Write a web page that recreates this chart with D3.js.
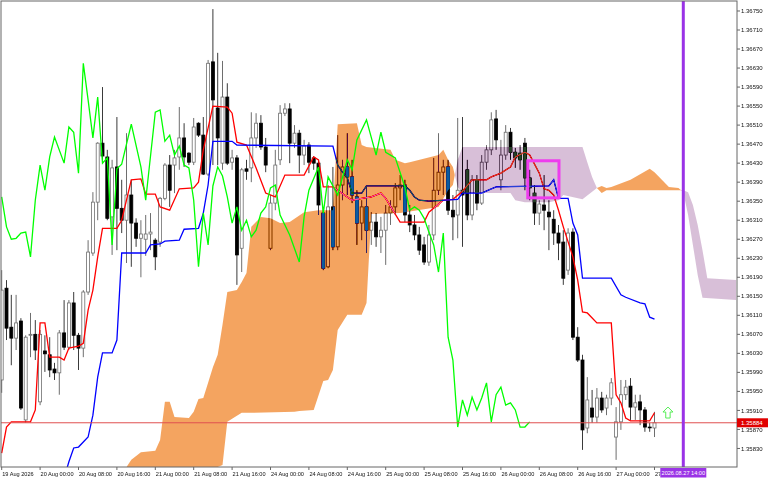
<!DOCTYPE html>
<html><head><meta charset="utf-8">
<script src="https://cdn.jsdelivr.net/npm/d3@7"></script>
<style>
html,body{margin:0;padding:0;background:#fff;}
svg{display:block;isolation:isolate;}
text{font-family:"Liberation Sans",Arial,sans-serif;}
</style></head><body>
<svg id="c" width="768" height="480"></svg>
<script>
// ---- data (H1 bars, index 0 = 19 Aug 2026 16:00) ----
const open = [1.35974,1.36167,1.36085,1.36062,1.36098,1.35890,1.36068,1.36070,1.35928,1.36035,1.36027,1.35997,1.35989,1.36073,1.36043,1.36136,1.36068,1.36041,1.36159,1.36241,1.36348,1.36472,1.36443,1.36317,1.36422,1.36335,1.36310,1.36363,1.36304,1.36272,1.36270,1.36281,1.36268,1.36264,1.36356,1.36426,1.36426,1.36443,1.36483,1.36451,1.36432,1.36514,1.36489,1.36407,1.36643,1.36546,1.36430,1.36569,1.36432,1.36441,1.36251,1.36418,1.36420,1.36483,1.36514,1.36464,1.36251,1.36346,1.36437,1.36535,1.36544,1.36472,1.36493,1.36447,1.36468,1.36441,1.36430,1.36325,1.36212,1.36338,1.36254,1.36384,1.36422,1.36401,1.36359,1.36304,1.36338,1.36289,1.36306,1.36275,1.36289,1.36325,1.36338,1.36378,1.36384,1.36321,1.36300,1.36279,1.36258,1.36222,1.36279,1.36373,1.36411,1.36422,1.36331,1.36321,1.36373,1.36416,1.36321,1.36395,1.36346,1.36432,1.36458,1.36523,1.36395,1.36447,1.36495,1.36453,1.36451,1.36472,1.36399,1.36367,1.36325,1.36342,1.36327,1.36312,1.36283,1.36264,1.36205,1.36285,1.36064,1.36016,1.35873,1.35915,1.35896,1.35936,1.35915,1.35936,1.35854,1.35886,1.35943,1.35961,1.35917,1.35928,1.35911,1.35875,1.35873];
const high = [1.36205,1.36184,1.36153,1.36153,1.36104,1.36068,1.36115,1.36100,1.36079,1.36068,1.36064,1.36010,1.36079,1.36142,1.36142,1.36159,1.36073,1.36163,1.36268,1.36369,1.36474,1.36590,1.36458,1.36437,1.36527,1.36395,1.36493,1.36395,1.36314,1.36310,1.36321,1.36325,1.36272,1.36359,1.36430,1.36447,1.36458,1.36548,1.36514,1.36453,1.36525,1.36516,1.36527,1.36647,1.36754,1.36662,1.36645,1.36598,1.36458,1.36447,1.36420,1.36437,1.36537,1.36535,1.36531,1.36483,1.36363,1.36458,1.36552,1.36556,1.36556,1.36510,1.36500,1.36479,1.36474,1.36445,1.36437,1.36338,1.36384,1.36422,1.36489,1.36437,1.36493,1.36437,1.36373,1.36352,1.36380,1.36327,1.36325,1.36317,1.36342,1.36352,1.36388,1.36405,1.36395,1.36342,1.36321,1.36296,1.36275,1.36300,1.36441,1.36493,1.36437,1.36437,1.36363,1.36525,1.36527,1.36437,1.36405,1.36405,1.36447,1.36468,1.36537,1.36542,1.36479,1.36510,1.36504,1.36462,1.36468,1.36483,1.36416,1.36384,1.36352,1.36405,1.36352,1.36331,1.36300,1.36289,1.36293,1.36293,1.36085,1.36027,1.35980,1.35953,1.35957,1.35949,1.35943,1.35978,1.35917,1.35974,1.35974,1.35978,1.35943,1.35943,1.35917,1.35884,1.35907];
const low = [1.35947,1.36058,1.36005,1.36037,1.35911,1.35884,1.36022,1.36016,1.35921,1.35991,1.35980,1.35974,1.35943,1.36037,1.36037,1.36037,1.35995,1.36022,1.36153,1.36235,1.36310,1.36437,1.36310,1.36237,1.36247,1.36283,1.36220,1.36212,1.36254,1.36190,1.36235,1.36247,1.36205,1.36254,1.36352,1.36338,1.36367,1.36416,1.36422,1.36426,1.36426,1.36485,1.36405,1.36403,1.36426,1.36426,1.36416,1.36426,1.36416,1.36174,1.36201,1.36395,1.36390,1.36462,1.36458,1.36411,1.36247,1.36331,1.36426,1.36529,1.36430,1.36462,1.36409,1.36426,1.36409,1.36416,1.36321,1.36205,1.36209,1.36247,1.36247,1.36352,1.36363,1.36346,1.36258,1.36268,1.36241,1.36258,1.36254,1.36241,1.36216,1.36300,1.36321,1.36352,1.36306,1.36285,1.36268,1.36237,1.36216,1.36214,1.36268,1.36363,1.36363,1.36321,1.36268,1.36272,1.36254,1.36310,1.36310,1.36331,1.36342,1.36416,1.36447,1.36458,1.36373,1.36437,1.36437,1.36420,1.36416,1.36373,1.36352,1.36300,1.36300,1.36289,1.36247,1.36258,1.36226,1.36174,1.36195,1.36058,1.36012,1.35827,1.35862,1.35884,1.35884,1.35905,1.35900,1.35921,1.35806,1.35869,1.35932,1.35890,1.35890,1.35879,1.35865,1.35865,1.35854];
const close = [1.36163,1.36083,1.36062,1.36094,1.35915,1.36064,1.36070,1.36037,1.36070,1.36029,1.35995,1.35989,1.36073,1.36043,1.36136,1.36068,1.36041,1.36159,1.36243,1.36348,1.36472,1.36445,1.36314,1.36420,1.36335,1.36310,1.36363,1.36304,1.36272,1.36281,1.36281,1.36285,1.36233,1.36356,1.36426,1.36373,1.36441,1.36483,1.36443,1.36432,1.36506,1.36489,1.36407,1.36640,1.36563,1.36483,1.36569,1.36430,1.36441,1.36237,1.36416,1.36413,1.36483,1.36514,1.36464,1.36426,1.36346,1.36426,1.36535,1.36544,1.36472,1.36493,1.36447,1.36466,1.36432,1.36430,1.36342,1.36209,1.36338,1.36254,1.36384,1.36422,1.36401,1.36363,1.36304,1.36338,1.36289,1.36306,1.36275,1.36289,1.36325,1.36338,1.36378,1.36384,1.36321,1.36300,1.36279,1.36247,1.36222,1.36279,1.36373,1.36411,1.36422,1.36331,1.36317,1.36373,1.36363,1.36321,1.36395,1.36346,1.36432,1.36458,1.36521,1.36479,1.36447,1.36495,1.36453,1.36441,1.36437,1.36399,1.36378,1.36325,1.36344,1.36331,1.36317,1.36283,1.36262,1.36188,1.36283,1.36064,1.36016,1.35869,1.35932,1.35896,1.35936,1.35911,1.35936,1.35968,1.35886,1.35943,1.35959,1.35917,1.35926,1.35911,1.35875,1.35874,1.35884];

// Ichimoku lines as [bar index, price] vertices
const tenkan = [[0,1.35820],[1,1.35875],[2,1.35886],[6,1.35886],[7,1.35911],[8,1.36094],[9,1.36094],[10,1.36022],[12,1.36022],[13,1.36016],[14,1.36041],[16,1.36045],[17,1.36051],[18,1.36121],[19,1.36163],[20,1.36233],[21,1.36293],[24,1.36293],[25,1.36310],[27,1.36395],[29,1.36397],[30,1.36365],[32,1.36365],[33,1.36338],[35,1.36331],[37,1.36376],[40,1.36378],[41,1.36390],[42,1.36458],[44,1.36550],[47,1.36548],[48,1.36535],[49,1.36474],[51,1.36468],[53,1.36420],[55,1.36367],[57,1.36359],[59,1.36405],[63,1.36405],[65,1.36443],[66,1.36437],[67,1.36380],[69,1.36380],[72,1.36359],[73,1.36352],[75,1.36356],[77,1.36359],[79,1.36367],[80,1.36356],[83,1.36306],[88,1.36306],[89,1.36327],[92,1.36352],[94,1.36354],[96,1.36371],[98,1.36395],[101,1.36395],[102,1.36401],[104,1.36409],[106,1.36422],[107,1.36443],[109,1.36453],[110,1.36447],[112,1.36409],[113,1.36376],[114,1.36373],[115,1.36363],[116,1.36331],[117,1.36296],[119,1.36233],[120,1.36184],[121,1.36117],[122,1.36115],[124,1.36094],[127,1.36094],[128,1.35943],[129,1.35926],[130,1.35894],[131,1.35888],[135,1.35888],[136,1.35905]];
const kijun = [[13,1.35768],[14,1.35802],[15,1.35831],[16,1.35833],[18,1.35854],[19,1.35900],[20,1.35980],[21,1.36031],[23,1.36031],[24,1.36058],[25,1.36241],[30,1.36241],[31,1.36258],[33,1.36260],[34,1.36266],[37,1.36268],[38,1.36291],[41,1.36293],[42,1.36325],[43,1.36384],[44,1.36476],[48,1.36476],[49,1.36468],[69,1.36466],[70,1.36426],[71,1.36411],[72,1.36399],[73,1.36367],[75,1.36367],[76,1.36382],[84,1.36382],[85,1.36373],[86,1.36359],[87,1.36352],[89,1.36350],[95,1.36354],[96,1.36367],[100,1.36367],[102,1.36376],[103,1.36380],[114,1.36382],[115,1.36395],[116,1.36356],[118,1.36356],[119,1.36304],[120,1.36279],[121,1.36188],[127,1.36188],[129,1.36153],[130,1.36148],[133,1.36136],[134,1.36134],[135,1.36106],[136,1.36102]];
const chikou = [[0,1.36359],[1,1.36296],[2,1.36270],[3,1.36272],[4,1.36283],[5,1.36285],[6,1.36233],[7,1.36352],[8,1.36426],[9,1.36373],[10,1.36443],[11,1.36485],[13,1.36430],[14,1.36506],[15,1.36495],[16,1.36409],[17,1.36640],[18,1.36563],[19,1.36483],[20,1.36569],[21,1.36430],[22,1.36441],[23,1.36258],[24,1.36418],[25,1.36428],[27,1.36512],[29,1.36422],[30,1.36352],[32,1.36537],[33,1.36542],[34,1.36476],[35,1.36489],[36,1.36447],[37,1.36466],[38,1.36426],[39,1.36420],[40,1.36352],[41,1.36212],[42,1.36325],[43,1.36258],[44,1.36382],[45,1.36422],[46,1.36403],[47,1.36359],[48,1.36304],[49,1.36338],[50,1.36289],[51,1.36310],[52,1.36275],[53,1.36289],[54,1.36325],[55,1.36338],[56,1.36378],[57,1.36384],[58,1.36321],[59,1.36300],[60,1.36279],[62,1.36222],[63,1.36317],[64,1.36373],[66,1.36422],[67,1.36325],[68,1.36401],[70,1.36363],[72,1.36437],[73,1.36416],[74,1.36479],[76,1.36521],[78,1.36447],[79,1.36495],[80,1.36453],[82,1.36441],[84,1.36380],[85,1.36331],[86,1.36338],[87,1.36331],[88,1.36314],[89,1.36285],[90,1.36258],[91,1.36201],[92,1.36283],[93,1.36064],[94,1.36016],[95,1.35875],[96,1.35932],[97,1.35900],[98,1.35938],[99,1.35911],[100,1.35936],[101,1.35968],[102,1.35886],[103,1.35943],[104,1.35959],[105,1.35921],[106,1.35926],[107,1.35911],[108,1.35875],[109,1.35875],[110,1.35886]];
const spanA = [[26,1.35785],[27,1.35806],[29,1.35822],[32,1.35825],[33,1.35848],[34,1.35928],[35,1.35928],[36,1.35896],[39,1.35894],[40,1.35907],[41,1.35934],[42,1.35936],[43,1.35968],[44,1.36001],[45,1.36027],[46,1.36090],[47,1.36159],[49,1.36163],[50,1.36180],[51,1.36199],[52,1.36296],[54,1.36317],[56,1.36314],[58,1.36304],[60,1.36306],[63,1.36327],[66,1.36331],[69,1.36331],[70,1.36512],[74,1.36514],[75,1.36468],[76,1.36464],[81,1.36458],[82,1.36437],[84,1.36430],[85,1.36432],[91,1.36447],[92,1.36458],[93,1.36437],[94,1.36422],[95,1.36380],[96,1.36367],[106,1.36367],[107,1.36352],[109,1.36348],[114,1.36348],[116,1.36352],[117,1.36363],[121,1.36354],[124,1.36378],[125,1.36382],[126,1.36378],[127,1.36380],[131,1.36395],[135,1.36418],[136,1.36411],[139,1.36380],[141,1.36378],[142,1.36369],[143,1.36321],[144,1.36258],[145,1.36195],[146,1.36147],[153,1.36142]];
const spanB = [[26,1.35722],[45,1.35764],[46,1.35795],[47,1.35886],[50,1.35905],[52,1.35905],[61,1.35907],[62,1.35909],[65,1.35911],[67,1.35972],[68,1.35974],[69,1.35995],[70,1.36079],[72,1.36111],[75,1.36111],[76,1.36136],[77,1.36323],[83,1.36325],[91,1.36338],[93,1.36373],[94,1.36384],[95,1.36437],[96,1.36464],[121,1.36464],[122,1.36432],[123,1.36401],[124,1.36378],[125,1.36367],[126,1.36373],[141,1.36373],[142,1.36373],[143,1.36369],[144,1.36342],[145,1.36300],[146,1.36247],[147,1.36188],[153,1.36184]];

const priceTicks = ["1.36750","1.36710","1.36670","1.36630","1.36590","1.36550","1.36510","1.36470","1.36430","1.36390","1.36350","1.36310","1.36270","1.36230","1.36190","1.36150","1.36110","1.36070","1.36030","1.35990","1.35950","1.35910","1.35870","1.35830"];
const timeLabels = [[0,"19 Aug 2026"],[8,"20 Aug 00:00"],[16,"20 Aug 08:00"],[24,"20 Aug 16:00"],[32,"21 Aug 00:00"],[40,"21 Aug 08:00"],[48,"21 Aug 16:00"],[56,"24 Aug 00:00"],[64,"24 Aug 08:00"],[72,"24 Aug 16:00"],[80,"25 Aug 00:00"],[88,"25 Aug 08:00"],[96,"25 Aug 16:00"],[104,"26 Aug 00:00"],[112,"26 Aug 08:00"],[120,"26 Aug 16:00"],[128,"27 Aug 00:00"],[136,"27 Aug 08:00"]];
const lastPrice = 1.35884;
const vline = {bar:142, label:"2026.08.27 14:00"};
const boxObj = {from:109.6, to:116.1, top:1.36435, bottom:1.36357};
const arrowObj = {bar:138.8, price:1.35894};

// ---- layout ----
const W=768,H=480,L=1,R=737,T=1,B=467;
const x = d3.scaleLinear().domain([0,153]).range([1.7,1.7+153*4.8]);
const y = d3.scaleLinear().domain([1.35791,1.36771]).range([B,T]);
const cy = v => Math.max(T, Math.min(B, y(v)));

const svg = d3.select('#c');
svg.append('rect').attr('width',W).attr('height',H).attr('fill','#fff');
const defs = svg.append('defs');
defs.append('clipPath').attr('id','plot').append('rect')
  .attr('x',L).attr('y',T).attr('width',R-L).attr('height',B-T);
defs.append('clipPath').attr('id','lbl').append('rect')
  .attr('x',0).attr('y',B).attr('width',x(vline.bar)-23).attr('height',H-B);

// candles
const idx = d3.range(close.length);
const gC = svg.append('g').attr('clip-path','url(#plot)');
gC.selectAll('line.wick').data(idx).join('line').attr('class','wick')
  .attr('x1',i=>x(i)).attr('x2',i=>x(i))
  .attr('y1',i=>y(high[i])).attr('y2',i=>y(low[i]))
  .attr('stroke',i=>close[i]>=open[i]?'#6e6e6e':'#3a3a3a').attr('stroke-width',1);
gC.selectAll('rect.body').data(idx).join('rect').attr('class','body')
  .attr('x',i=>x(i)-1.5).attr('width',3)
  .attr('y',i=>y(Math.max(open[i],close[i])))
  .attr('height',i=>Math.max(0.8,Math.abs(y(open[i])-y(close[i]))))
  .attr('fill',i=>close[i]>=open[i]?'#fff':'#000')
  .attr('stroke',i=>close[i]>=open[i]?'#6e6e6e':'#000').attr('stroke-width',0.8);

const line = d3.line().x(d=>x(d[0])).y(d=>y(d[1]));
const gL = svg.append('g').attr('clip-path','url(#plot)').attr('fill','none');
gL.append('path').attr('d',line(tenkan)).attr('stroke','#ff0000').attr('stroke-width',1.3);
gL.append('path').attr('d',line(kijun)).attr('stroke','#0000ff').attr('stroke-width',1.3);

// cloud (inverting blend, like the terminal's XOR histogram)
const areaDown = d3.area().x(d=>x(d[0])).y0(B).y1(d=>cy(d[1]));
const areaUp = d3.area().x(d=>x(d[0])).y0(T).y1(d=>cy(d[1]));
defs.append('clipPath').attr('id','aboveB').append('path').attr('d',areaUp(spanB));
defs.append('clipPath').attr('id','aboveA').append('path').attr('d',areaUp(spanA));
svg.append('path').attr('d',areaDown(spanA)).attr('fill','rgb(11,91,159)')
  .attr('clip-path','url(#aboveB)').style('mix-blend-mode','difference');
svg.append('path').attr('d',areaDown(spanB)).attr('fill','rgb(39,64,39)')
  .attr('clip-path','url(#aboveA)').style('mix-blend-mode','difference');

const gL2 = svg.append('g').attr('clip-path','url(#plot)').attr('fill','none');
gL2.append('path').attr('d',line(chikou)).attr('stroke','#00ff00').attr('stroke-width',1.3);
// bid line
gL2.append('line').attr('x1',L).attr('x2',R).attr('y1',y(lastPrice)).attr('y2',y(lastPrice))
  .attr('stroke','#e05050').attr('stroke-width',1);
// rectangle object
gL2.append('rect').attr('x',x(boxObj.from)).attr('y',y(boxObj.top))
  .attr('width',x(boxObj.to)-x(boxObj.from)).attr('height',y(boxObj.bottom)-y(boxObj.top))
  .attr('stroke','#ee3cee').attr('stroke-width',3);
// arrow object
const ax=x(arrowObj.bar), ay=y(arrowObj.price);
gL2.append('path').attr('d',`M${ax},${ay-11}L${ax+5},${ay-6}L${ax+2.2},${ay-6}L${ax+2.2},${ay}L${ax-2.2},${ay}L${ax-2.2},${ay-6}L${ax-5},${ay-6}Z`)
  .attr('stroke','#55ee55').attr('stroke-width',1).attr('fill','#fff');
// vertical line
svg.append('line').attr('x1',x(vline.bar)).attr('x2',x(vline.bar)).attr('y1',T).attr('y2',B)
  .attr('stroke','#9a33e6').attr('stroke-width',3);

// frame & axes
svg.append('rect').attr('x',L).attr('y',T).attr('width',R-L).attr('height',B-T)
  .attr('fill','none').attr('stroke','#666').attr('stroke-width',1);
const gY = svg.append('g');
priceTicks.forEach(t=>{
  const v=+t, yy=y(v);
  gY.append('line').attr('x1',R).attr('x2',R+3).attr('y1',yy).attr('y2',yy).attr('stroke','#666');
  gY.append('text').attr('x',R+4).attr('y',yy).attr('dy','0.35em')
    .attr('font-size',6).attr('fill','#111').text(t);
});
const gX = svg.append('g').attr('clip-path','url(#lbl)');
timeLabels.forEach(([i,t])=>{
  const xx=x(i);
  gX.append('line').attr('x1',xx).attr('x2',xx).attr('y1',B).attr('y2',B+3).attr('stroke','#666');
  gX.append('text').attr('x',xx+0.5).attr('y',B+9).attr('font-size',5.6).attr('fill','#111').text(t);
});
// price label
const py=y(lastPrice);
svg.append('rect').attr('x',R).attr('y',py-4.5).attr('width',31).attr('height',9).attr('fill','#e00000');
svg.append('text').attr('x',R+4).attr('y',py).attr('dy','0.35em').attr('font-size',6)
  .attr('fill','#fff').text(lastPrice.toFixed(5));
// time label for vertical line
const vx=x(vline.bar);
svg.append('rect').attr('x',vx-23).attr('y',B+1).attr('width',46).attr('height',9.5).attr('fill','#9a33e6');
svg.append('text').attr('x',vx).attr('y',B+8.3).attr('text-anchor','middle').attr('font-size',5.6)
  .attr('fill','#fff').text(vline.label);
</script></body></html>
